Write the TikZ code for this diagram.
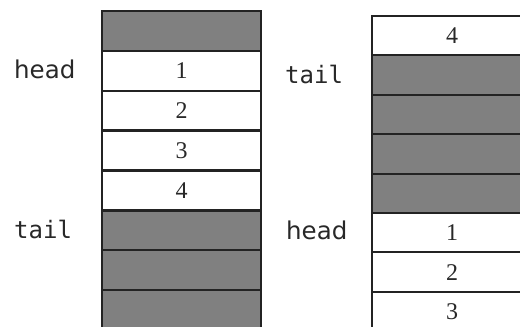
\documentclass[tikz,border=0pt]{standalone}
\usepackage{fontspec}
\setmainfont{Liberation Serif}
\newfontfamily\labelfont{DejaVu Sans}
\newfontfamily\codefont{DejaVu Sans Mono}
\usepackage{tikz}
\definecolor{grisito}{RGB}{128,128,128}
\definecolor{bordecito}{RGB}{35,35,35}
\definecolor{textito}{RGB}{40,40,40}
\tikzset{cell/.style={draw=bordecito, line width=2pt, minimum width=159pt, minimum height=39.6pt, inner sep=0pt, anchor=north, text=textito, font=\fontsize{24}{24}\selectfont},
  usedcell/.style={cell, fill=white},
  emptycell/.style={cell, fill=grisito},
  ptrlabel/.style={anchor=west, inner sep=0pt, text=textito, font=\labelfont\fontsize{24.5}{25}\selectfont},
  codelabel/.style={anchor=west, inner sep=0pt, text=textito, font=\codefont\fontsize{24}{25}\selectfont}}

\begin{document}
\begin{tikzpicture}[x=1pt,y=-1pt]
			\useasboundingbox (0,0) rectangle (520,327);
			\clip (0,0) rectangle (520,327);
			% queue before wrap-around
			\foreach \s/\t [count=\i from 0] in {emptycell/{},usedcell/1,usedcell/2,usedcell/3,usedcell/4,emptycell/{},emptycell/{},emptycell/{}}
			  \node[\s] (lq\i) at (181.5,10+39.9*\i) {\t};
			\node[ptrlabel] (headL) at (14,69) {head};
			\node[codelabel] (tailL) at (14,229) {tail};

			% queue after wrap-around
			\foreach \s/\t [count=\i from 0] in {usedcell/4,emptycell/{},emptycell/{},emptycell/{},emptycell/{},usedcell/1,usedcell/2,usedcell/3}
			  \node[\s,minimum width=160pt] (rq\i) at (452,15+39.4*\i) {\t};
			\node[ptrlabel] (headR) at (286,230) {head};
			\node[codelabel] (tailR) at (285,74) {tail};
		  \end{tikzpicture}
\end{document}
